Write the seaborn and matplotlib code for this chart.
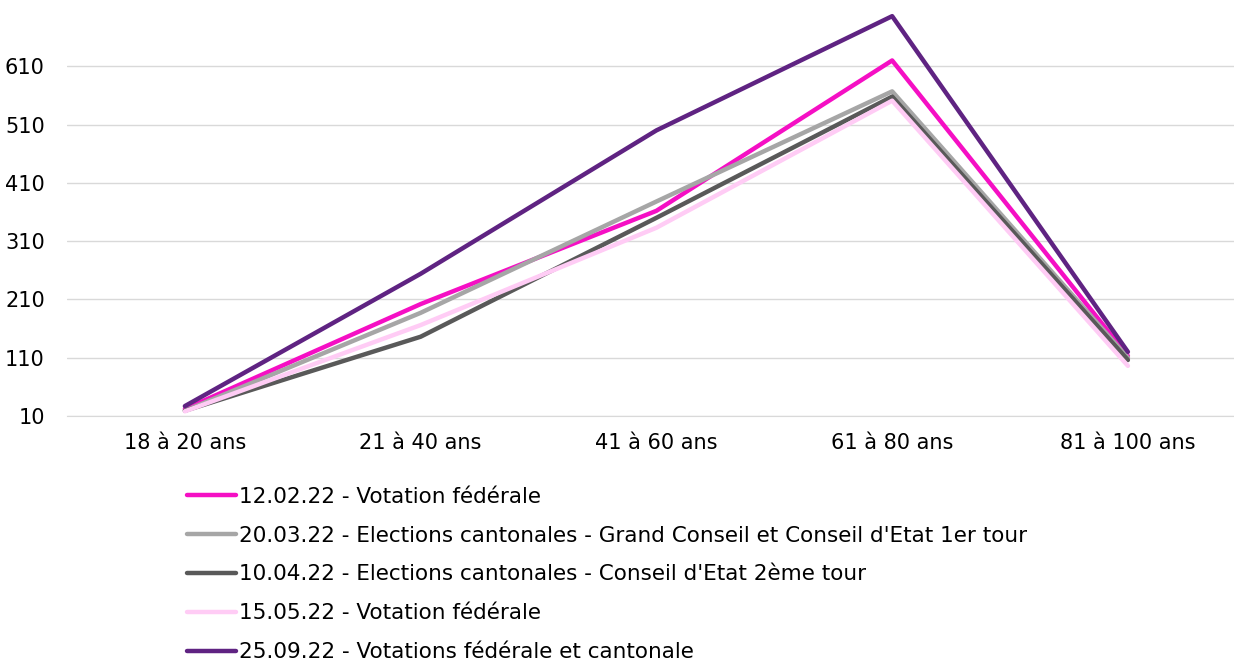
import pandas as pd
import matplotlib.pyplot as plt
import seaborn as sns

#%% DATA
ages = ["18 à 20 ans", "21 à 40 ans", "41 à 60 ans", "61 à 80 ans", "81 à 100 ans"]

scrutins = ["12.02.22 - Votation fédérale",
            "20.03.22 - Elections cantonales - Grand Conseil et Conseil d'Etat 1er tour",
            "10.04.22 - Elections cantonales - Conseil d'Etat 2ème tour",
            "15.05.22 - Votation fédérale",
            "25.09.22 - Votations fédérale et cantonale"]

v_120222 = [22, 202, 362, 620, 113]
v_200322 = [19, 187, 378, 567, 110]
v_100422 = [19, 146, 350, 558, 106]
v_150522 = [18, 166, 333, 551, 96]
v_250922 = [27, 254, 500, 696, 120]

couleurs = ["#F50FC4", "#A6A6A6", "#595959", "#FFCCF5", "#5F2382"]
yticks = [10, 110, 210, 310, 410, 510, 610]

#%% LONG FORMAT
df = pd.DataFrame({"Age": ages * 5,
                   "x": list(range(5)) * 5,
                   "Votants": v_120222 + v_200322 + v_100422 + v_150522 + v_250922,
                   "Scrutin": [s for s in scrutins for _ in ages]})

#%% PLOT
sns.set_style("white")
plt.rcParams['font.family'] = ['DejaVu Sans']
plt.rcParams['text.color'] = 'black'
plt.rcParams['xtick.color'] = 'black'
plt.rcParams['ytick.color'] = 'black'

fig = plt.figure(figsize=(12.34, 6.66), dpi=100)
ax = fig.add_axes([67/1234, 250/666, 1167/1234, 408/666])

sns.lineplot(data=df, x="x", y="Votants", hue="Scrutin", palette=couleurs,
             linewidth=3.2, ax=ax, legend=True)

ax.set_xlim(-0.5, 4.45)
ax.set_ylim(10, 710)
ax.set_xticks(range(5))
ax.set_xticklabels(ages, fontsize=15)
ax.set_yticks(yticks)
ax.set_yticklabels([str(t) for t in yticks], fontsize=15)
ax.tick_params(axis="both", length=0, pad=12)
ax.tick_params(axis="y", pad=16)
ax.yaxis.grid(True, color="#D9D9D9", linewidth=1)
ax.set_axisbelow(True)
for s in ["top", "right", "left"]:
    ax.spines[s].set_visible(False)
ax.spines["bottom"].set_color("#D9D9D9")
ax.set_xlabel("")
ax.set_ylabel("")

h, l = ax.get_legend_handles_labels()
ax.get_legend().remove()
fig.legend(h, l, loc="upper left", bbox_to_anchor=(178/1234, 1 - 478/666),
           frameon=False, fontsize=15.5, handlelength=2.3, handletextpad=0.12,
           labelspacing=0.88, borderaxespad=0)

fig.savefig("out.png", dpi=100)
